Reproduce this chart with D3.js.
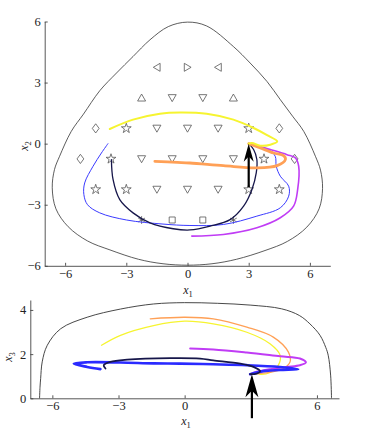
<!DOCTYPE html>
<html><head><meta charset="utf-8">
<script src="https://cdn.jsdelivr.net/npm/d3@7"></script>
<style>body{margin:0;background:#fff}text{font-family:"Liberation Serif","DejaVu Serif",serif;}</style>
</head><body>
<svg id="c" width="377" height="445"></svg>
<script>
// ---------- data ----------
const topXTicks = [-6, -3, 0, 3, 6];
const topYTicks = [-6, -3, 0, 3, 6];
const botXTicks = [-6, -3, 0, 6];
const botYTicks = [0, 2, 4];

// state-constraint boundaries
const boundaryTop = [[0,5.97],[0.94,5.78],[2.25,4.77],[3.07,3.96],[3.9,3.05],[4.55,2.16],[5.15,1.35],[5.7,0.6],[6.27,-0.62],[6.52,-1.3],[6.62,-2.2],[6.45,-3.2],[5.85,-4.1],[4.9,-4.8],[3.8,-5.25],[2.4,-5.68],[1.2,-5.9],[0,-5.97],[-1.2,-5.9],[-2.4,-5.68],[-3.8,-5.22],[-4.9,-4.78],[-5.85,-4.08],[-6.45,-3.2],[-6.63,-2.17],[-6.52,-1.27],[-6.27,-0.62],[-5.7,0.6],[-5.1,1.45],[-4.3,2.6],[-3.48,3.47],[-2.67,4.28],[-1.84,5.1],[-0.94,5.75]];
const boundaryBot = [[-6.58,0],[-6.56,0.5],[-6.53,0.9],[-6.46,1.65],[-6.23,2.4],[-5.62,3.15],[-4.42,3.67],[-2.91,4.04],[-1.41,4.27],[0,4.33],[1.5,4.3],[2.97,4.22],[4.4,4.05],[5.2,3.75],[5.68,3.37],[6.14,2.85],[6.4,2.3],[6.51,1.95],[6.62,1.05],[6.66,0]];

// grid of initial conditions
const markerX1 = [-1.5,0,1.5, -2.25,-0.75,0.75,2.25, -4.5,-3,-1.5,0,1.5,3,4.5, -5.25,-3.75,-2.25,-0.75,0.75,2.25,3.75,5.25, -4.5,-3,-1.5,0,1.5,3,4.5, -2.25,-0.75,0.75,2.25];
const markerX2 = [3.75,3.75,3.75, 2.25,2.25,2.25,2.25, 0.75,0.75,0.75,0.75,0.75,0.75,0.75, -0.75,-0.75,-0.75,-0.75,-0.75,-0.75,-0.75,-0.75, -2.25,-2.25,-2.25,-2.25,-2.25,-2.25,-2.25, -3.75,-3.75,-3.75,-3.75];
const markerKind = ["tl","tr","tl", "tu","td","td","tu", "dm","st","td","td","td","st","dm", "dm","st","td","td","td","td","st","dm", "st","st","td","td","td","st","st", "as","sq","sq","as"];

// trajectories, (x1,x2) projection
const yellowTop = [[-3.81,0.72],[-2.67,1.18],[-1.35,1.47],[-0.37,1.53],[0.94,1.47],[2.25,1.18],[3.24,0.77],[3.9,0.42],[4.4,0.11],[4.06,-0.05],[3.57,-0.1],[3.16,0.03],[3,0]];
const orangeTop = [[-1.6,-0.87],[-0.5,-0.92],[0.12,-0.95],[1.76,-1.08],[3.4,-1.19],[4.39,-1.08],[4.8,-0.78],[4.71,-0.59],[4.22,-0.46],[3.57,-0.21],[3,0]];
const blueTop = [[-3.9,0],[-4.22,-0.46],[-4.63,-1.11],[-5.04,-1.93],[-5.08,-2.5],[-4.9,-3.0],[-4.3,-3.4],[-2.99,-3.75],[-1.2,-3.95],[0.12,-4.02],[1.76,-3.97],[3.4,-3.56],[4.55,-3.15],[4.96,-2.58],[4.96,-2.09],[4.55,-1.6],[4.35,-1.11],[4.3,-0.62],[3.97,-0.29],[3.4,-0.13],[3,0]];
const navyTop = [[-3.73,-0.78],[-3.65,-1.76],[-3.32,-2.75],[-2.67,-3.4],[-1.84,-3.89],[-0.7,-4.18],[0.12,-4.24],[1.11,-4.05],[2.09,-3.73],[2.75,-3.07],[3.16,-2.25],[3.37,-1.44],[3.4,-0.78],[3.24,-0.29],[3,0]];
const magentaTop = [[0.21,-4.54],[1.76,-4.46],[3.4,-4.13],[4.55,-3.64],[5.2,-3.07],[5.4,-2.25],[5.45,-1.11],[5.29,-0.7],[4.88,-0.54],[4.06,-0.29],[3.4,-0.1],[3,0]];

// trajectories, (x1,x3) projection
const yellowBot = [[-3.77,2.4],[-2.91,2.85],[-1.41,3.29],[0,3.49],[1.3,3.37],[2.82,2.99],[3.87,2.47],[4.33,1.95],[4.25,1.5],[3.87,1.17],[3.5,1.08],[3.19,1.15],[2.97,1.09]];
const orangeBot = [[-1.56,3.6],[0,3.67],[1.3,3.6],[2.82,3.22],[4.02,2.77],[4.7,2.1],[4.78,1.65],[4.48,1.35],[3.87,1.17],[3.27,1.12],[2.97,1.09]];
const magentaBot = [[0.25,2.25],[1.3,2.21],[2.82,2.07],[4.33,1.9],[5.23,1.8],[5.5,1.62],[5.23,1.5],[4.63,1.42],[3.87,1.32],[3.27,1.2],[2.97,1.08]];
const navyBot = [[-3.59,1.35],[-3.67,1.5],[-3.37,1.65],[-2.61,1.75],[-0.65,1.82],[0.7,1.8],[1.3,1.72],[2.52,1.57],[3.12,1.42],[3.42,1.23],[3.27,1.12],[2.97,1.09]];
const blueBot = [[-3.82,1.32],[-4.42,1.42],[-5.03,1.57],[-4.42,1.63],[-2.91,1.62],[-1.41,1.58],[-0.2,1.57],[1.3,1.54],[2.82,1.5],[4.33,1.42],[5.15,1.32],[4.33,1.28],[3.57,1.23],[2.97,1.09]];

// arrows: x, tip, tail
const arrowTop = [3, 0, -2.15];
const arrowBot = [3.05, 1.09, -0.9];

// ---------- drawing ----------
const svg = d3.select("#c");
const xT = d3.scaleLinear([-7, 7], [44.7, 330.3]);
const yT = d3.scaleLinear([-6, 6], [265.8, 21.5]);
const xB = d3.scaleLinear([-7, 7], [30.3, 339]);
const yB = d3.scaleLinear([0, 4.45], [398.3, 300]);

const fmt = d => (d < 0 ? "\u2212" + Math.abs(d) : "" + d);

function axes(x, y, xt, yt) {
  const gx = svg.append("g").attr("transform", `translate(0,${y.range()[0]})`)
    .call(d3.axisBottom(x).tickValues(xt).tickFormat(fmt).tickSizeInner(-3).tickSizeOuter(0).tickPadding(3));
  const gy = svg.append("g").attr("transform", `translate(${x.range()[0]},0)`)
    .call(d3.axisLeft(y).tickValues(yt).tickFormat(fmt).tickSizeInner(-3).tickSizeOuter(0).tickPadding(4));
  [gx, gy].forEach(g => {
    g.select(".domain").attr("stroke", "#444").attr("stroke-width", 0.9);
    g.selectAll(".tick line").attr("stroke", "#444").attr("stroke-width", 0.9);
    g.selectAll(".tick text").attr("font-size", 12.5).attr("fill", "#222")
      .style("font-family", '"Liberation Serif","DejaVu Serif",serif');
  });
}
axes(xT, yT, topXTicks, topYTicks);
axes(xB, yB, botXTicks, botYTicks);

function label(xp, yp, sub, rot) {
  const t = svg.append("text").attr("font-size", 12).attr("fill", "#222")
    .attr("text-anchor", "middle")
    .attr("transform", `translate(${xp},${yp})` + (rot ? " rotate(-90)" : ""));
  t.append("tspan").attr("font-style", "italic").text("x");
  t.append("tspan").attr("font-size", 8.5).attr("dy", 2.5).text(sub);
}
label(188, 294, "1", false);
label(28, 146, "2", true);
label(186, 425, "1", false);
label(12, 357, "3", true);

const curve = d3.curveCatmullRom.alpha(0.5);
const lineT = d3.line().x(d => xT(d[0])).y(d => yT(d[1])).curve(curve);
const lineB = d3.line().x(d => xB(d[0])).y(d => yB(d[1])).curve(curve);

// boundaries
svg.append("path").attr("d", d3.line().x(d => xT(d[0])).y(d => yT(d[1])).curve(d3.curveCatmullRomClosed.alpha(0.5))(boundaryTop))
  .attr("fill", "none").attr("stroke", "#333").attr("stroke-width", 0.8);
svg.append("path").attr("d", lineB(boundaryBot))
  .attr("fill", "none").attr("stroke", "#333").attr("stroke-width", 0.9);

// markers
const mk = {
  tl: "M-3.6,0L3.2,-4L3.2,4Z",
  tr: "M3.6,0L-3.2,-4L-3.2,4Z",
  tu: "M0,-3.8L4,3.2L-4,3.2Z",
  td: "M0,3.8L4,-3.2L-4,-3.2Z",
  dm: "M0,-4.6L3.4,0L0,4.6L-3.4,0Z",
  sq: "M-3,-3L3,-3L3,3L-3,3Z",
  st: d3.symbol(d3.symbolStar, 30)(),
  as: d3.symbol(d3.symbolAsterisk, 42)()
};
svg.append("g").selectAll("path").data(markerX1.map((v, i) => i)).join("path")
  .attr("transform", i => `translate(${xT(markerX1[i])},${yT(markerX2[i])})`)
  .attr("d", i => mk[markerKind[i]])
  .attr("fill", "none").attr("stroke", "#555").attr("stroke-width", 0.8);

// trajectories
const trajTop = [
  [blueTop, "#3a3aff", 1.0],
  [navyTop, "#16164a", 1.3],
  [magentaTop, "#c03cf5", 1.6],
  [orangeTop, "#ffa056", 2.8],
  [yellowTop, "#f6f430", 2.0]
];
trajTop.forEach(([d, c, w]) => svg.append("path").attr("d", lineT(d)).attr("fill", "none")
  .attr("stroke", c).attr("stroke-width", w).attr("stroke-linecap", "round").attr("stroke-linejoin", "round"));

const trajBot = [
  [yellowBot, "#f6f430", 1.3],
  [orangeBot, "#ffa056", 1.3],
  [magentaBot, "#c03cf5", 2.0],
  [blueBot, "#2a2aff", 2.6],
  [navyBot, "#16164a", 1.8]
];
trajBot.forEach(([d, c, w]) => svg.append("path").attr("d", lineB(d)).attr("fill", "none")
  .attr("stroke", c).attr("stroke-width", w).attr("stroke-linecap", "round").attr("stroke-linejoin", "round"));

// arrows
function arrow(x, y, a, len, half) {
  const px = x(a[0]), tip = y(a[1]), tail = y(a[2]);
  svg.append("line").attr("x1", px).attr("x2", px).attr("y1", tip + len * 0.6).attr("y2", tail)
    .attr("stroke", "#000").attr("stroke-width", 2.2);
  svg.append("path").attr("d", `M${px},${tip}L${px + half},${tip + len}L${px},${tip + len * 0.72}L${px - half},${tip + len}Z`)
    .attr("fill", "#000");
}
arrow(xT, yT, arrowTop, 18, 5);
arrow(xB, yB, arrowBot, 23, 6.5);
</script>
</body></html>
